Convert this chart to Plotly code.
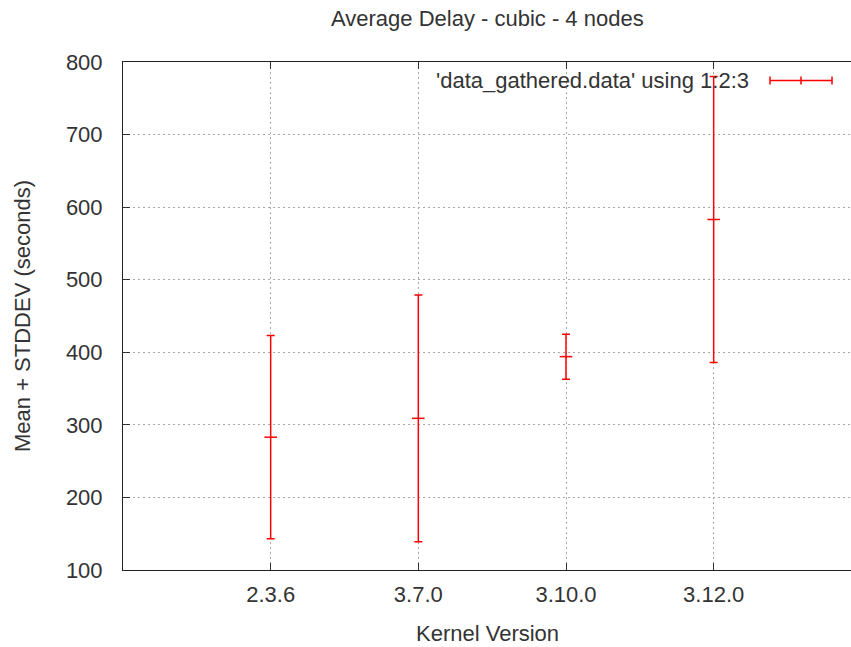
import plotly.graph_objects as go

kernels = ["2.3.6", "3.7.0", "3.10.0", "3.12.0"]
positions = [1, 2, 3, 4]
mean_delay = [283, 309, 394, 583]
stddev = [140, 170, 31, 197]

title_text = "Average Delay - cubic - 4 nodes"
x_title = "Kernel Version"
y_title = "Mean + STDDEV (seconds)"
legend_text = "'data_gathered.data' using 1:2:3"
y_ticks = [100, 200, 300, 400, 500, 600, 700, 800]

FONT = "Liberation Sans, Arial, sans-serif"
FS = 22
RED = "#ff0000"
W, H = 851, 647
L, T, B = 123, 62, 77
PW = W - L
PH = H - T - B

def px(x):
    return (x - L) / PW

def py(y):
    return (H - B - y) / PH

fig = go.Figure()
fig.add_trace(go.Scatter(
    x=positions, y=mean_delay, mode="markers",
    marker=dict(symbol="line-ew", size=9, color=RED, line=dict(color=RED, width=1.5)),
    error_y=dict(type="data", array=stddev, visible=True, color=RED, thickness=1.5, width=4),
    showlegend=False, hoverinfo="skip",
))

grid = dict(showgrid=True, gridcolor="#a8a8a8", gridwidth=1, griddash="2px,3px")

fig.update_layout(
    width=W, height=H,
    margin=dict(l=L, r=0, t=T, b=B),
    plot_bgcolor="white", paper_bgcolor="white",
    font=dict(family=FONT, size=FS, color="#333333"),
    xaxis=dict(range=[0, 4.93], tickmode="array", tickvals=positions, ticktext=kernels,
               ticks="inside", ticklen=7, tickcolor="#333", showline=True, linecolor="#222",
               linewidth=1, mirror="ticks", zeroline=False, ticklabelstandoff=5, **grid),
    yaxis=dict(range=[100, 800], tickmode="array", tickvals=y_ticks,
               ticks="inside", ticklen=7, tickcolor="#333", showline=True, linecolor="#222",
               linewidth=1, zeroline=False, ticklabelstandoff=15, **grid),
    annotations=[
        dict(text=title_text, xref="paper", yref="paper", x=px(487.5), y=py(19),
             xanchor="center", yanchor="middle", showarrow=False, font=dict(size=FS)),
        dict(text=x_title, xref="paper", yref="paper", x=px(487), y=py(633),
             xanchor="center", yanchor="middle", showarrow=False, font=dict(size=FS)),
        dict(text=y_title, xref="paper", yref="paper", x=px(22), y=py(316), textangle=-90,
             xanchor="center", yanchor="middle", showarrow=False, font=dict(size=FS)),
        dict(text=legend_text, xref="paper", yref="paper", x=px(751), y=py(80),
             xanchor="right", yanchor="middle", showarrow=False, font=dict(size=FS)),
    ],
    shapes=[
        dict(type="line", xref="paper", yref="paper", x0=px(770), x1=px(832), y0=py(80.5), y1=py(80.5),
             line=dict(color=RED, width=1.5)),
        dict(type="line", xref="paper", yref="paper", x0=px(770), x1=px(770), y0=py(76.5), y1=py(84.5),
             line=dict(color=RED, width=1.5)),
        dict(type="line", xref="paper", yref="paper", x0=px(801), x1=px(801), y0=py(76.5), y1=py(84.5),
             line=dict(color=RED, width=1.5)),
        dict(type="line", xref="paper", yref="paper", x0=px(832), x1=px(832), y0=py(76.5), y1=py(84.5),
             line=dict(color=RED, width=1.5)),
    ],
)

fig.write_html("out.html", config={"displayModeBar": False},
               post_script="document.body.style.margin='0px';document.body.style.padding='0px';")
